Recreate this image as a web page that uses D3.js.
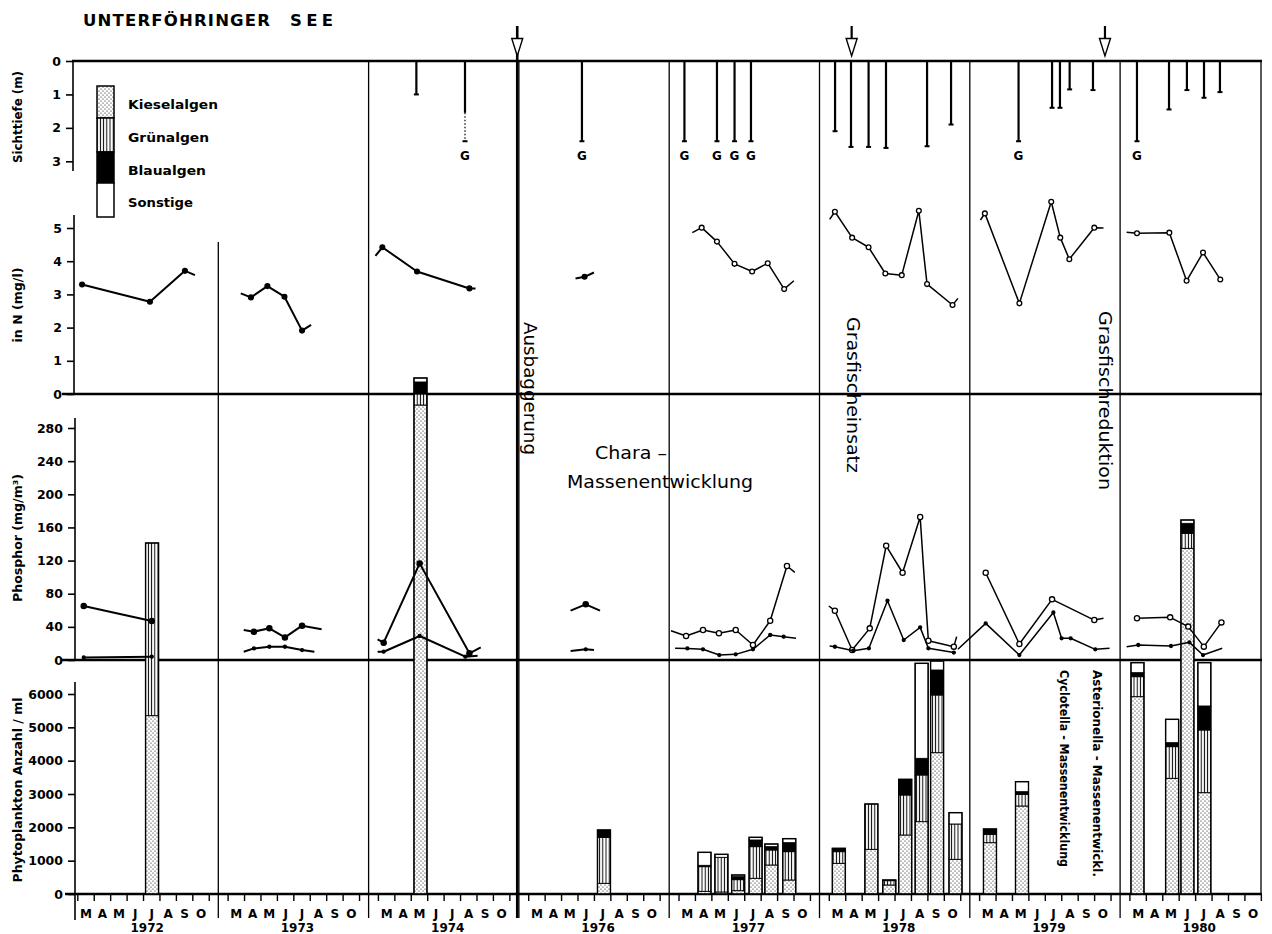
<!DOCTYPE html>
<html>
<head>
<meta charset="utf-8">
<script src="https://cdn.jsdelivr.net/npm/d3@7"></script>
<style>
body { margin: 0; background: #fff; }
svg { display: block; font-family: "DejaVu Sans", sans-serif; }
.tick text { font-weight: bold; font-size: 12.5px; }
</style>
</head>
<body>
<svg id="chart" width="1272" height="934"></svg>
<script>
// ---- data ----
const years = [1972, 1973, 1974, 1976, 1977, 1978, 1979, 1980];
const monthLabels = ["M", "A", "M", "J", "J", "A", "S", "O"];
const groups = ["Kieselalgen", "Grünalgen", "Blaualgen", "Sonstige"];

// Sichttiefe: year, month (3.0 = 1. März), depth (m), dotted extension, G = Grund
const secchi = [
  {year: 1974, month: 5.31, depth: 1.0},
  {year: 1974, month: 8.27, depth: 1.55, dotted: 2.4, g: true},
  {year: 1976, month: 6.24, depth: 2.4, g: true},
  {year: 1977, month: 3.33, depth: 2.4, g: true},
  {year: 1977, month: 5.31, depth: 2.4, g: true},
  {year: 1977, month: 6.38, depth: 2.4, g: true},
  {year: 1977, month: 7.38, depth: 2.4, g: true},
  {year: 1978, month: 3.35, depth: 2.1},
  {year: 1978, month: 4.32, depth: 2.57},
  {year: 1978, month: 5.39, depth: 2.57},
  {year: 1978, month: 6.45, depth: 2.6},
  {year: 1978, month: 8.95, depth: 2.55},
  {year: 1978, month: 10.41, depth: 1.9},
  {year: 1979, month: 5.37, depth: 2.4, g: true},
  {year: 1979, month: 7.41, depth: 1.4},
  {year: 1979, month: 7.89, depth: 1.4},
  {year: 1979, month: 8.48, depth: 0.85},
  {year: 1979, month: 9.90, depth: 0.87},
  {year: 1980, month: 3.43, depth: 2.4, g: true},
  {year: 1980, month: 5.38, depth: 1.45},
  {year: 1980, month: 6.47, depth: 0.87},
  {year: 1980, month: 7.51, depth: 1.1},
  {year: 1980, month: 8.48, depth: 0.93}
];

// Nitrat in N (mg/l): [month, value, marker]
const nitrogen = [
  {year: 1972, pts: [[3.26, 3.30, 1], [7.39, 2.78, 1], [9.52, 3.71, 1], [10.13, 3.58, 0]]},
  {year: 1973, pts: [[3.77, 3.03, 0], [4.39, 2.91, 1], [5.39, 3.25, 1], [6.43, 2.93, 1], [7.50, 1.91, 1], [8.05, 2.08, 0]]},
  {year: 1974, pts: [[2.82, 4.16, 0], [3.24, 4.42, 1], [5.35, 3.69, 1], [8.54, 3.18, 1], [8.91, 3.18, 0]]},
  {year: 1976, pts: [[5.85, 3.48, 0], [6.40, 3.53, 1], [6.97, 3.66, 0]]},
  {year: 1977, pts: [[3.81, 4.86, 0], [4.38, 5.01, 1], [5.31, 4.59, 1], [6.38, 3.92, 1], [7.45, 3.69, 1], [8.40, 3.94, 1], [9.40, 3.16, 1], [9.99, 3.41, 0]]},
  {year: 1978, pts: [[3.02, 5.26, 0], [3.34, 5.49, 1], [4.39, 4.71, 1], [5.39, 4.42, 1], [6.41, 3.63, 1], [7.41, 3.58, 1], [8.45, 5.52, 1], [8.95, 3.31, 1], [10.50, 2.68, 1], [10.83, 2.88, 0]]},
  {year: 1979, pts: [[3.05, 5.24, 0], [3.32, 5.44, 1], [5.42, 2.73, 1], [7.36, 5.79, 1], [7.91, 4.71, 1], [8.46, 4.06, 1], [9.98, 5.01, 1], [10.54, 5.00, 0]]},
  {year: 1980, pts: [[2.80, 4.87, 0], [3.43, 4.84, 1], [5.40, 4.86, 1], [6.45, 3.41, 1], [7.45, 4.26, 1], [8.50, 3.45, 1]]}
];

// Phosphor (mg/m3), Gesamt-P (obere Kurve)
const phosTotal = [
  {year: 1972, pts: [[3.36, 65.2, 1], [7.50, 47.1, 1]]},
  {year: 1973, pts: [[3.95, 36.2, 0], [4.57, 34.2, 1], [5.51, 38.2, 1], [6.46, 27.3, 1], [7.50, 41.4, 1], [8.69, 37.1, 0]]},
  {year: 1974, pts: [[2.95, 25.0, 0], [3.32, 20.9, 1], [5.51, 116.6, 1], [8.54, 8.1, 1], [9.23, 15.3, 0]]},
  {year: 1976, pts: [[5.55, 59.5, 0], [6.47, 67.2, 1], [7.34, 59.5, 0]]},
  {year: 1977, pts: [[2.51, 35.4, 0], [3.43, 29.0, 1], [4.46, 36.2, 1], [5.43, 32.2, 1], [6.45, 36.2, 1], [7.50, 18.1, 1], [8.55, 47.4, 1], [9.57, 113.4, 1], [10.05, 105.7, 0]]},
  {year: 1978, pts: [[2.97, 65.2, 0], [3.34, 59.5, 1], [4.39, 12.0, 1], [5.46, 38.2, 1], [6.46, 137.8, 1], [7.46, 105.3, 1], [8.53, 172.6, 1], [9.03, 23.3, 1], [10.58, 16.1, 1], [10.75, 28.2, 0]]},
  {year: 1979, pts: [[3.37, 105.3, 1], [5.42, 19.3, 1], [7.41, 73.2, 1], [9.98, 48.2, 1], [10.54, 50.3, 0]]},
  {year: 1980, pts: [[3.43, 50.3, 1], [5.45, 51.5, 1], [6.55, 40.3, 1], [7.50, 16.1, 1], [8.57, 45.4, 1]]}
];

// Phosphor (mg/m3), gelöster P (untere Kurve)
const phosSolved = [
  {year: 1972, pts: [[3.36, 3, 1], [7.50, 4, 1]]},
  {year: 1973, pts: [[3.95, 10, 0], [4.57, 14, 1], [5.51, 16, 1], [6.46, 16, 1], [7.50, 12, 1], [8.25, 10, 0]]},
  {year: 1974, pts: [[2.95, 10, 0], [3.32, 10, 1], [5.51, 29, 1], [8.29, 4, 1], [9.04, 5, 0]]},
  {year: 1976, pts: [[5.55, 10.9, 0], [6.47, 12.9, 1], [6.97, 12, 0]]},
  {year: 1977, pts: [[2.76, 14.1, 0], [3.51, 14, 1], [4.46, 12.9, 1], [5.45, 6, 1], [6.45, 6.8, 1], [7.50, 12.9, 1], [8.55, 30.2, 1], [9.37, 28.2, 1], [10.12, 26.2, 0]]},
  {year: 1978, pts: [[3.02, 16.9, 0], [3.34, 16, 1], [4.47, 11.2, 1], [5.41, 14.1, 1], [6.54, 71.6, 1], [7.53, 24.1, 1], [8.53, 39.4, 1], [9.03, 14.1, 1], [10.58, 9, 1]]},
  {year: 1979, pts: [[1.68, 13, 0], [3.37, 44.2, 1], [5.42, 6, 1], [7.49, 57.3, 1], [7.99, 26.2, 1], [8.54, 26.2, 1], [10.04, 12.9, 1], [10.91, 14.1, 0]]},
  {year: 1980, pts: [[2.80, 16.1, 0], [3.51, 18.1, 1], [5.50, 16.9, 1], [6.62, 21.3, 1], [7.45, 6, 1], [8.62, 14.1, 0]]}
];

// Phytoplankton Anzahl/ml: year, month, Kieselalgen, Grünalgen, Blaualgen, Sonstige
const phyto = [
  [1972, 7.52, 5350, 5180, 0, 0],
  [1974, 5.56, 14670, 330, 360, 120],
  [1976, 7.58, 320, 1380, 220, 0],
  [1977, 4.55, 80, 740, 40, 390],
  [1977, 5.58, 60, 1040, 0, 90],
  [1977, 6.60, 100, 330, 90, 50],
  [1977, 7.66, 470, 950, 200, 80],
  [1977, 8.62, 870, 450, 100, 80],
  [1977, 9.71, 420, 850, 270, 120],
  [1978, 3.58, 920, 350, 80, 20],
  [1978, 5.56, 1340, 1360, 0, 0],
  [1978, 6.65, 270, 130, 0, 20],
  [1978, 7.62, 1770, 1200, 450, 20],
  [1978, 8.62, 2170, 1400, 500, 2850],
  [1978, 9.56, 4240, 1730, 750, 270],
  [1978, 10.68, 1040, 1060, 0, 340],
  [1979, 3.63, 1540, 250, 160, 0],
  [1979, 5.58, 2640, 350, 80, 300],
  [1980, 3.46, 5920, 600, 120, 300],
  [1980, 5.57, 3470, 950, 120, 700],
  [1980, 6.50, 10370, 450, 300, 100],
  [1980, 7.53, 3040, 1880, 720, 1300]
];

// Ereignisse (Pfeile oben)
const events = [
  {year: 1974, month: 11.45, label: "Ausbaggerung", line: true},
  {year: 1978, month: 4.36, label: "Grasfischeinsatz"},
  {year: 1979, month: 10.63, label: "Grasfischreduktion"}
];

const secchiTicks = [0, 1, 2, 3];
const nTicks = [0, 1, 2, 3, 4, 5];
const pTicks = [0, 40, 80, 120, 160, 200, 240, 280];
const phytoTicks = [0, 1000, 2000, 3000, 4000, 5000, 6000];

// ---- scales ----
const svg = d3.select("#chart");
const frameR = 1261;
const band = d3.scaleBand().domain(years).range([68, 68 + 150.3 * years.length]);
const monthX = d3.scaleLinear().domain([2.403, 11.551]).range([0, band.bandwidth()]);
const xAt = (yr, m) => band(yr) + monthX(m);

const ySecchi = d3.scaleLinear().domain([0, 3]).range([61, 161.3]);
const yN = d3.scaleLinear().domain([0, 5]).range([394, 228]);
const yP = d3.scaleLinear().domain([0, 280]).range([660, 428]);
const yPhyto = d3.scaleLinear().domain([0, 6000]).range([894, 694]);

// ---- patterns ----
const defs = svg.append("defs");
const stip = defs.append("pattern").attr("id", "stip")
  .attr("width", 4).attr("height", 4).attr("patternUnits", "userSpaceOnUse");
stip.append("rect").attr("width", 4).attr("height", 4).attr("fill", "#fff");
stip.append("circle").attr("cx", 1).attr("cy", 1).attr("r", 0.6).attr("fill", "#000");
stip.append("circle").attr("cx", 3).attr("cy", 3).attr("r", 0.6).attr("fill", "#000");
const hatch = defs.append("pattern").attr("id", "hatch")
  .attr("width", 3.2).attr("height", 4).attr("patternUnits", "userSpaceOnUse");
hatch.append("rect").attr("width", 3.2).attr("height", 4).attr("fill", "#fff");
hatch.append("line").attr("x1", 1.2).attr("x2", 1.2).attr("y1", 0).attr("y2", 4)
  .attr("stroke", "#000").attr("stroke-width", 1);
const fills = d3.scaleOrdinal().domain(groups)
  .range(["url(#stip)", "url(#hatch)", "#000", "#fff"]);

// ---- title ----
svg.append("text").attr("x", 83).attr("y", 26)
  .attr("font-weight", "bold").attr("font-size", 16.5)
  .attr("textLength", 187).attr("lengthAdjust", "spacing")
  .text("UNTERFÖHRINGER");
svg.append("text").attr("x", 290).attr("y", 26)
  .attr("font-weight", "bold").attr("font-size", 16.5)
  .attr("textLength", 43).attr("lengthAdjust", "spacing")
  .text("SEE");

// ---- frame and year dividers ----
const frame = svg.append("g").attr("stroke", "#000").attr("fill", "none");
years.slice(1).forEach((yr, i) => {
  frame.append("line")
    .attr("x1", band(yr)).attr("x2", band(yr))
    .attr("y1", i === 0 ? 242 : 61).attr("y2", 918)
    .attr("stroke-width", 1.3);
});
frame.append("line").attr("x1", frameR).attr("x2", frameR)
  .attr("y1", 61).attr("y2", 894).attr("stroke-width", 1.3);

// ---- phytoplankton bars ----
const rows = phyto.map(r => ({year: r[0], month: r[1],
  Kieselalgen: r[2], "Grünalgen": r[3], Blaualgen: r[4], Sonstige: r[5]}));
const stacked = d3.stack().keys(groups)(rows);
const barW = 13;
const bars = svg.append("g");
stacked.forEach(layer => {
  bars.selectAll(null)
    .data(layer.filter(d => d[1] > d[0]))
    .join("rect")
    .attr("x", d => xAt(d.data.year, d.data.month) - barW / 2)
    .attr("width", barW)
    .attr("y", d => yPhyto(d[1]))
    .attr("height", d => yPhyto(d[0]) - yPhyto(d[1]))
    .attr("fill", fills(layer.key))
    .attr("stroke", "#000").attr("stroke-width", 0.9);
});
bars.selectAll(".outline")
  .data(rows)
  .join("rect")
  .attr("x", d => xAt(d.year, d.month) - barW / 2)
  .attr("width", barW)
  .attr("y", d => yPhyto(d3.sum(groups, g => d[g])))
  .attr("height", d => yPhyto(0) - yPhyto(d3.sum(groups, g => d[g])))
  .attr("fill", "none").attr("stroke", "#000").attr("stroke-width", 1.4);

// ---- horizontal zero lines ----
[[72, 61], [62, yN(0)], [62, yP(0)], [65, yPhyto(0)]].forEach(([x0, y]) => {
  frame.append("line").attr("x1", x0).attr("x2", frameR + 1)
    .attr("y1", y).attr("y2", y).attr("stroke-width", 2.6);
});

// ---- line series ----
function drawSeries(series, yScale, markerR, tickStyle) {
  const g = svg.append("g");
  series.forEach(s => {
    const line = d3.line()
      .x(d => xAt(s.year, d[0]))
      .y(d => yScale(d[1]));
    g.append("path").datum(s.pts)
      .attr("d", line)
      .attr("fill", "none").attr("stroke", "#000")
      .attr("stroke-width", s.year < 1977 ? 2 : 1.5)
      .attr("stroke-linejoin", "round");
    g.selectAll(null)
      .data(s.pts.filter(d => d[2]))
      .join("circle")
      .attr("cx", d => xAt(s.year, d[0]))
      .attr("cy", d => yScale(d[1]))
      .attr("r", markerR)
      .attr("fill", tickStyle || s.year < 1977 ? "#000" : "#fff")
      .attr("stroke", "#000").attr("stroke-width", 1.3);
  });
}
drawSeries(nitrogen, yN, 2.4, false);
drawSeries(phosTotal, yP, 2.6, false);
drawSeries(phosSolved, yP, 1.5, true);

// ---- Sichttiefe ----
const sg = svg.append("g").attr("stroke", "#000");
secchi.forEach(d => {
  const x = xAt(d.year, d.month);
  sg.append("line").attr("x1", x).attr("x2", x)
    .attr("y1", ySecchi(0)).attr("y2", ySecchi(d.depth)).attr("stroke-width", 2.2);
  if (d.dotted) {
    sg.append("line").attr("x1", x).attr("x2", x)
      .attr("y1", ySecchi(d.depth)).attr("y2", ySecchi(d.dotted))
      .attr("stroke-width", 1.2).attr("stroke-dasharray", "1.5,2");
  }
  const end = d.dotted || d.depth;
  sg.append("line").attr("x1", x - 2.5).attr("x2", x + 2.5)
    .attr("y1", ySecchi(end)).attr("y2", ySecchi(end)).attr("stroke-width", 2);
  if (d.g) {
    svg.append("text").attr("x", x).attr("y", ySecchi(end) + 19)
      .attr("text-anchor", "middle").attr("font-weight", "bold").attr("font-size", 12)
      .text("G");
  }
});

// ---- events ----
events.forEach(e => {
  const x = xAt(e.year, e.month);
  const a = svg.append("g").attr("stroke", "#000");
  a.append("line").attr("x1", x).attr("x2", x).attr("y1", 26)
    .attr("y2", e.line ? 918 : 39).attr("stroke-width", e.line ? 2.6 : 2.2);
  a.append("path")
    .attr("d", `M${x - 5.5},38.5 L${x + 5.5},38.5 L${x},56 Z`)
    .attr("fill", "#fff").attr("stroke-width", 1.4);
});
const rot = [
  {t: events[0].label, x: 529.5, y: 322, len: 133},
  {t: events[1].label, x: 853, y: 317, len: 156},
  {t: events[2].label, x: 1105, y: 311, len: 179}
];
rot.forEach(r => {
  svg.append("text")
    .attr("transform", `translate(${r.x},${r.y}) rotate(90)`)
    .attr("dominant-baseline", "central")
    .attr("font-size", 17)
    .attr("textLength", r.len).attr("lengthAdjust", "spacingAndGlyphs")
    .text(r.t);
});
svg.append("text").attr("x", 595).attr("y", 459).attr("font-size", 18)
  .attr("textLength", 72).attr("lengthAdjust", "spacingAndGlyphs").text("Chara –");
svg.append("text").attr("x", 567).attr("y", 488).attr("font-size", 18)
  .attr("textLength", 186).attr("lengthAdjust", "spacingAndGlyphs").text("Massenentwicklung");
[
  {t: "Cyclotella - Massenentwicklung", x: 1064, len: 197},
  {t: "Asterionella - Massenentwickl.", x: 1097, len: 207}
].forEach(r => {
  svg.append("text")
    .attr("transform", `translate(${r.x},670) rotate(90)`)
    .attr("dominant-baseline", "central")
    .attr("font-size", 11.5).attr("font-weight", "bold")
    .attr("textLength", r.len).attr("lengthAdjust", "spacingAndGlyphs")
    .text(r.t);
});

// ---- y axes ----
function yAxis(scale, ticks, x, top, bottom) {
  const g = svg.append("g").attr("transform", `translate(${x},0)`)
    .call(d3.axisLeft(scale).tickValues(ticks).tickSize(7).tickPadding(5).tickFormat(d3.format("d")));
  g.select(".domain").remove();
  g.selectAll(".tick line").attr("stroke-width", 1.6);
  g.append("line").attr("y1", top).attr("y2", bottom)
    .attr("stroke", "#000").attr("stroke-width", 1.6);
  g.selectAll(".tick text").attr("font-family", "DejaVu Sans");
}
yAxis(ySecchi, secchiTicks, 73, 61, 171);
yAxis(yN, nTicks, 74, 215, 394);
yAxis(yP, pTicks, 75, 418, 660);
yAxis(yPhyto, phytoTicks, 75, 682, 920);

const axisTitles = [
  {t: "Sichttiefe (m)", y: 117, len: 92},
  {t: "in N (mg/l)", y: 305, len: 75},
  {t: "Phosphor (mg/m³)", y: 538, len: 128},
  {t: "Phytoplankton Anzahl / ml", y: 790, len: 185}
];
axisTitles.forEach(a => {
  svg.append("text")
    .attr("transform", `translate(18,${a.y}) rotate(-90)`)
    .attr("text-anchor", "middle").attr("dominant-baseline", "central")
    .attr("font-weight", "bold").attr("font-size", 12)
    .attr("textLength", a.len).attr("lengthAdjust", "spacingAndGlyphs")
    .text(a.t);
});

// ---- month axis ----
const xa = svg.append("g");
years.forEach(yr => {
  d3.range(3, 12).forEach(m => {
    xa.append("line").attr("x1", xAt(yr, m)).attr("x2", xAt(yr, m))
      .attr("y1", 894).attr("y2", 901).attr("stroke", "#000").attr("stroke-width", 1.4);
  });
  monthLabels.forEach((lab, i) => {
    xa.append("text").attr("x", xAt(yr, 3.5 + i)).attr("y", 918)
      .attr("text-anchor", "middle").attr("font-weight", "bold").attr("font-size", 12)
      .text(lab);
  });
  xa.append("text").attr("x", band(yr) + band.bandwidth() / 2 + 4).attr("y", 932)
    .attr("text-anchor", "middle").attr("font-weight", "bold").attr("font-size", 12)
    .text(yr);
});

// ---- legend ----
const legTop = 86, legStep = [32, 34, 31, 34], legLen = [90, 81, 78, 65];
const lg = svg.append("g");
let ly = legTop;
groups.forEach((gname, i) => {
  lg.append("rect").attr("x", 97).attr("y", ly).attr("width", 17).attr("height", legStep[i])
    .attr("fill", fills(gname)).attr("stroke", "#000").attr("stroke-width", 1.5);
  lg.append("text").attr("x", 128).attr("y", ly + legStep[i] / 2 + 7)
    .attr("font-weight", "bold").attr("font-size", 12.5)
    .attr("textLength", legLen[i]).attr("lengthAdjust", "spacingAndGlyphs")
    .text(gname);
  ly += legStep[i];
});
</script>
</body>
</html>
